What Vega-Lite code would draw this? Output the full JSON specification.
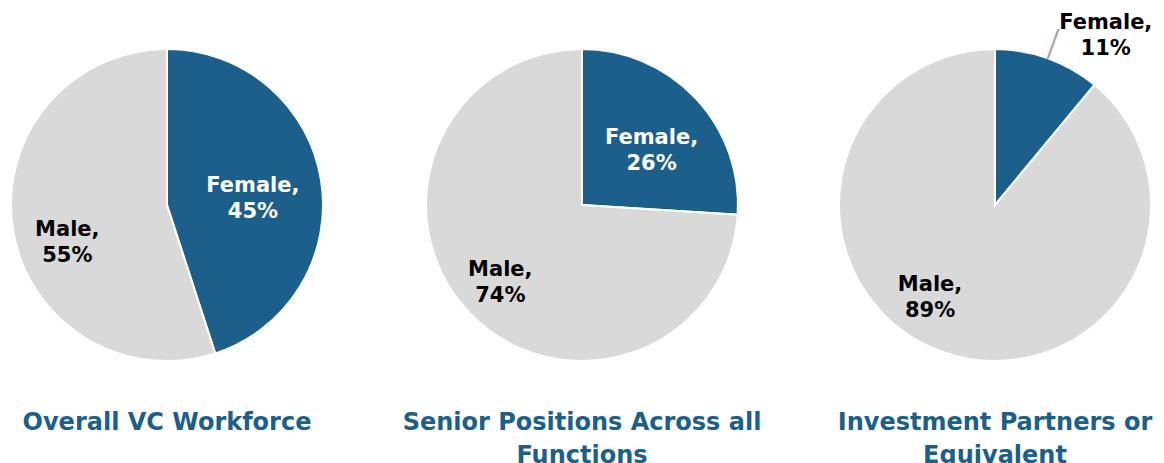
{
  "$schema": "https://vega.github.io/schema/vega-lite/v6.json",
  "padding": 0,
  "background": "white",
  "spacing": 58,
  "config": {
    "view": {"stroke": null},
    "font": "DejaVu Sans",
    "title": {"orient": "bottom", "anchor": "middle", "font": "DejaVu Sans", "fontSize": 24, "fontWeight": "bold", "color": "#1b5f8a", "offset": 1, "lineHeight": 33, "baseline": "top"}
  },
  "datasets": {
    "pies": [
      {"chart": "Overall VC Workforce", "gender": "Female", "pct": 45},
      {"chart": "Overall VC Workforce", "gender": "Male", "pct": 55},
      {"chart": "Senior Positions", "gender": "Female", "pct": 26},
      {"chart": "Senior Positions", "gender": "Male", "pct": 74},
      {"chart": "Investment Partners", "gender": "Female", "pct": 11},
      {"chart": "Investment Partners", "gender": "Male", "pct": 89}
    ]
  },
  "hconcat": [
    {
      "width": 334, "height": 410,
      "title": {"text": "Overall VC Workforce"},
      "data": {"name": "pies"},
      "transform": [
        {"filter": "datum.chart === 'Overall VC Workforce'"},
        {"calculate": "[datum.gender + ',', datum.pct + '%']", "as": "label"}
      ],
      "encoding": {
        "theta": {"field": "pct", "type": "quantitative", "stack": true},
        "order": {"field": "gender", "sort": "ascending"}
      },
      "layer": [
        {
          "mark": {"type": "arc", "radius": 156, "stroke": "white", "strokeWidth": 2},
          "encoding": {"color": {"field": "gender", "type": "nominal", "scale": {"domain": ["Female", "Male"], "range": ["#1b5f8a", "#d9d9d9"]}, "legend": null}}
        },
        {
          "mark": {"type": "text", "radius": 87, "fontSize": 21, "fontWeight": "bold", "color": "white", "lineHeight": 26, "baseline": "middle", "dy": -5, "clip": true},
          "encoding": {"text": {"condition": {"test": "datum.gender === 'Female'", "field": "label"}, "value": ""}}
        },
        {
          "mark": {"type": "text", "radius": 108, "fontSize": 21, "fontWeight": "bold", "color": "black", "lineHeight": 26, "baseline": "middle", "dx": 7, "dy": 8, "clip": true},
          "encoding": {"text": {"condition": {"test": "datum.gender === 'Male'", "field": "label"}, "value": ""}}
        }
      ]
    },
    {
      "width": 380, "height": 410,
      "title": {"text": ["Senior Positions Across all", "Functions"]},
      "data": {"name": "pies"},
      "transform": [
        {"filter": "datum.chart === 'Senior Positions'"},
        {"calculate": "[datum.gender + ',', datum.pct + '%']", "as": "label"}
      ],
      "encoding": {
        "theta": {"field": "pct", "type": "quantitative", "stack": true},
        "order": {"field": "gender", "sort": "ascending"}
      },
      "layer": [
        {
          "mark": {"type": "arc", "radius": 156, "stroke": "white", "strokeWidth": 2},
          "encoding": {"color": {"field": "gender", "type": "nominal", "scale": {"domain": ["Female", "Male"], "range": ["#1b5f8a", "#d9d9d9"]}, "legend": null}}
        },
        {
          "mark": {"type": "text", "radius": 90, "fontSize": 21, "fontWeight": "bold", "color": "white", "lineHeight": 26, "baseline": "middle", "dx": 4, "dy": -5, "clip": true},
          "encoding": {"text": {"condition": {"test": "datum.gender === 'Female'", "field": "label"}, "value": ""}}
        },
        {
          "mark": {"type": "text", "radius": 112, "fontSize": 21, "fontWeight": "bold", "color": "black", "lineHeight": 26, "baseline": "middle", "dy": -12, "clip": true},
          "encoding": {"text": {"condition": {"test": "datum.gender === 'Male'", "field": "label"}, "value": ""}}
        }
      ]
    },
    {
      "width": 330, "height": 410,
      "title": {"text": ["Investment Partners or", "Equivalent"]},
      "data": {"name": "pies"},
      "transform": [
        {"filter": "datum.chart === 'Investment Partners'"},
        {"calculate": "[datum.gender + ',', datum.pct + '%']", "as": "label"}
      ],
      "encoding": {
        "theta": {"field": "pct", "type": "quantitative", "stack": true},
        "order": {"field": "gender", "sort": "ascending"}
      },
      "layer": [
        {
          "mark": {"type": "arc", "radius": 156, "stroke": "white", "strokeWidth": 2},
          "encoding": {"color": {"field": "gender", "type": "nominal", "scale": {"domain": ["Female", "Male"], "range": ["#1b5f8a", "#d9d9d9"]}, "legend": null}}
        },
        {
          "mark": {"type": "text", "radius": 170, "fontSize": 27, "color": "#a6a6a6", "angle": 20, "baseline": "middle", "clip": true},
          "encoding": {"text": {"condition": {"test": "datum.gender === 'Female'", "value": "│"}, "value": ""}}
        },
        {
          "mark": {"type": "text", "radius": 200, "fontSize": 21, "fontWeight": "bold", "color": "black", "lineHeight": 26, "baseline": "middle", "dx": 43, "dy": 6, "clip": true},
          "encoding": {"text": {"condition": {"test": "datum.gender === 'Female'", "field": "label"}, "value": ""}}
        },
        {
          "mark": {"type": "text", "radius": 112, "fontSize": 21, "fontWeight": "bold", "color": "black", "lineHeight": 26, "baseline": "middle", "dx": -27, "dy": -25, "clip": true},
          "encoding": {"text": {"condition": {"test": "datum.gender === 'Male'", "field": "label"}, "value": ""}}
        }
      ]
    }
  ]
}
